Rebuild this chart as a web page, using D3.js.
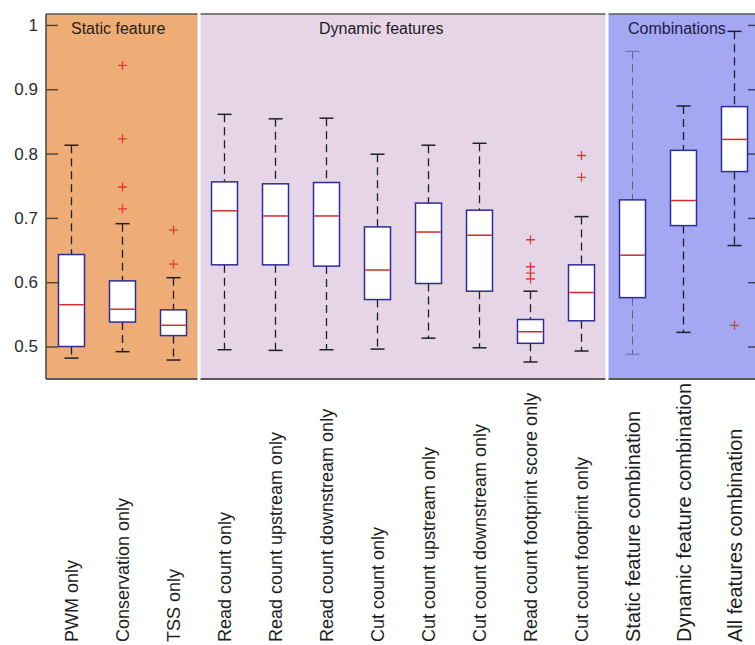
<!DOCTYPE html>
<html>
<head>
<meta charset="utf-8">
<script src="https://cdn.jsdelivr.net/npm/d3@7"></script>
<style>
  html, body { margin: 0; padding: 0; background: #ffffff; }
  svg { display: block; font-family: "Liberation Sans", Arial, Helvetica, sans-serif; }
</style>
</head>
<body>
<svg id="chart" width="755" height="645"></svg>
<script>
// Feature sets compared, in plotting order
const categories = [
  "PWM only", "Conservation only", "TSS only",
  "Read count only", "Read count upstream only", "Read count downstream only",
  "Cut count only", "Cut count upstream only", "Cut count downstream only",
  "Read count footprint score only", "Cut count footprint only",
  "Static feature combination", "Dynamic feature combination", "All features combination"
];

// Group each feature set belongs to
const panelNames = ["Static feature", "Dynamic features", "Combinations"];
const panelOfCategory = [0, 0, 0, 1, 1, 1, 1, 1, 1, 1, 1, 2, 2, 2];

// Box statistics per feature set
const whiskerLow  = [0.482, 0.492, 0.479, 0.495, 0.494, 0.495, 0.496, 0.513, 0.498, 0.476, 0.493, 0.488, 0.522, 0.657];
const q1          = [0.500, 0.538, 0.517, 0.627, 0.627, 0.625, 0.573, 0.598, 0.586, 0.505, 0.540, 0.576, 0.688, 0.772];
const median      = [0.565, 0.558, 0.533, 0.711, 0.703, 0.703, 0.619, 0.678, 0.673, 0.523, 0.584, 0.642, 0.727, 0.822];
const q3          = [0.643, 0.602, 0.557, 0.756, 0.753, 0.755, 0.686, 0.723, 0.712, 0.542, 0.627, 0.728, 0.805, 0.873];
const whiskerHigh = [0.813, 0.691, 0.607, 0.861, 0.854, 0.855, 0.799, 0.813, 0.816, 0.586, 0.702, 0.959, 0.874, 0.990];
const outliers = [
  [],
  [0.937, 0.823, 0.748, 0.714],
  [0.681, 0.628],
  [], [], [], [], [], [],
  [0.666, 0.624, 0.614, 0.605],
  [0.797, 0.763],
  [], [],
  [0.533]
];

// Axis ticks
const yTicks = [0.5, 0.6, 0.7, 0.8, 0.9, 1];
const yTickLabels = ["0.5", "0.6", "0.7", "0.8", "0.9", "1"];

// Layout and styling
const plot = { left: 46, right: 760, top: 14, bottom: 379 };
const panelFill = ["#eeac76", "#e6d5e6", "#a4a7f1"];
const titleOffset = [25, 120, 21];
const titleColor = ["#2a1c12", "#1e1a24", "#1a1a44"];
const lightWhisker = ["Static feature combination"];

const svg = d3.select("#chart");

const x = d3.scaleBand()
  .domain(categories)
  .range([plot.left, plot.right])
  .paddingInner(0)
  .paddingOuter(0);

const y = d3.scaleLinear()
  .domain([0.4495, 1.017])
  .range([plot.bottom, plot.top]);

const bw = x.bandwidth();
const boxW = 26;
const capW = 14;

// Panel backgrounds
const panels = panelNames.map((name, p) => {
  const members = categories.filter((c, i) => panelOfCategory[i] === p);
  return {
    name,
    x0: x(members[0]),
    x1: x(members[members.length - 1]) + bw,
    fill: panelFill[p],
    p
  };
});

svg.append("g").selectAll("rect")
  .data(panels)
  .join("rect")
  .attr("x", d => d.x0)
  .attr("y", plot.top)
  .attr("width", d => d.x1 - d.x0)
  .attr("height", plot.bottom - plot.top)
  .attr("fill", d => d.fill);

// Tick marks inside the left and right edges
const leftAxis = svg.append("g")
  .attr("transform", `translate(${plot.left},0)`)
  .call(d3.axisLeft(y)
    .tickValues(yTicks)
    .tickFormat((d, i) => yTickLabels[i])
    .tickSize(-12)
    .tickPadding(8));
leftAxis.select(".domain").remove();
leftAxis.selectAll(".tick line").attr("stroke", "#4a4038").attr("stroke-width", 1.4);
leftAxis.selectAll(".tick text")
  .attr("font-size", 17)
  .attr("fill", "#2b2b2b")
  .attr("font-family", "'Liberation Sans', Arial, sans-serif");

const rightAxis = svg.append("g")
  .attr("transform", `translate(${plot.right},0)`)
  .call(d3.axisRight(y).tickValues(yTicks).tickFormat("").tickSize(-12));
rightAxis.select(".domain").remove();
rightAxis.selectAll(".tick line").attr("stroke", "#3a3a5a").attr("stroke-width", 1.4);

// Panel titles
svg.append("g").selectAll("text")
  .data(panels)
  .join("text")
  .attr("x", d => d.x0 + titleOffset[d.p])
  .attr("y", 34)
  .attr("font-size", 16)
  .attr("fill", d => titleColor[d.p])
  .text(d => d.name);

// Box plots
const stats = categories.map((c, i) => ({
  c, lo: whiskerLow[i], q1: q1[i], med: median[i], q3: q3[i], hi: whiskerHigh[i], out: outliers[i]
}));

const g = svg.append("g").selectAll("g")
  .data(stats)
  .join("g")
  .attr("transform", d => `translate(${x(d.c) + bw / 2},0)`);

// Dashed whiskers
g.append("line")
  .attr("x1", 0).attr("x2", 0)
  .attr("y1", d => y(d.hi)).attr("y2", d => y(d.q3))
  .attr("class", "whisker");
g.append("line")
  .attr("x1", 0).attr("x2", 0)
  .attr("y1", d => y(d.q1)).attr("y2", d => y(d.lo))
  .attr("class", "whisker");
g.selectAll(".whisker")
  .attr("stroke", d => lightWhisker.includes(d.c) ? "#5a5e8a" : "#1e1e2a")
  .attr("stroke-width", d => lightWhisker.includes(d.c) ? 1 : 1.3)
  .attr("stroke-dasharray", "8,5");

// Whisker caps
g.append("line")
  .attr("x1", -capW / 2).attr("x2", capW / 2)
  .attr("y1", d => y(d.hi)).attr("y2", d => y(d.hi))
  .attr("class", "cap");
g.append("line")
  .attr("x1", -capW / 2).attr("x2", capW / 2)
  .attr("y1", d => y(d.lo)).attr("y2", d => y(d.lo))
  .attr("class", "cap");
g.selectAll(".cap")
  .attr("stroke", d => lightWhisker.includes(d.c) ? "#6a6e96" : "#1e1e2a")
  .attr("stroke-width", d => lightWhisker.includes(d.c) ? 1 : 1.5);

// Interquartile boxes
g.append("rect")
  .attr("x", -boxW / 2)
  .attr("width", boxW)
  .attr("y", d => y(d.q3))
  .attr("height", d => y(d.q1) - y(d.q3))
  .attr("fill", "#ffffff")
  .attr("stroke", "#2c2c9a")
  .attr("stroke-width", 1.5);

// Medians
g.append("line")
  .attr("x1", -boxW / 2 + 0.75).attr("x2", boxW / 2 - 0.75)
  .attr("y1", d => y(d.med)).attr("y2", d => y(d.med))
  .attr("stroke", "#d42a2a")
  .attr("stroke-width", 1.5);

// Outliers
const plusSize = 4.5;
g.selectAll("path.outlier")
  .data(d => d.out)
  .join("path")
  .attr("class", "outlier")
  .attr("d", v => `M${-plusSize},${y(v)}H${plusSize}M0,${y(v) - plusSize}V${y(v) + plusSize}`)
  .attr("stroke", "#e03a3a")
  .attr("stroke-width", 1.3)
  .attr("fill", "none");

// Frame
svg.append("line")
  .attr("x1", plot.left).attr("x2", plot.right)
  .attr("y1", plot.top).attr("y2", plot.top)
  .attr("stroke", "#5a5a5a").attr("stroke-width", 1.5);
svg.append("line")
  .attr("x1", plot.left).attr("x2", plot.right)
  .attr("y1", plot.bottom).attr("y2", plot.bottom)
  .attr("stroke", "#5a5858").attr("stroke-width", 2);
svg.append("line")
  .attr("x1", plot.left).attr("x2", plot.left)
  .attr("y1", plot.top).attr("y2", plot.bottom)
  .attr("stroke", "#5a4a3c").attr("stroke-width", 1.6);

// White gaps between panels
svg.append("g").selectAll("line")
  .data(panels.slice(1))
  .join("line")
  .attr("x1", d => d.x0).attr("x2", d => d.x0)
  .attr("y1", plot.top - 1).attr("y2", plot.bottom + 1.5)
  .attr("stroke", "#ffffff")
  .attr("stroke-width", 3);

// Category labels, rotated
svg.append("g").selectAll("text")
  .data(categories)
  .join("text")
  .attr("transform", (d, i) => `translate(${x(d) + bw / 2},642) rotate(-90)`)
  .attr("dy", "0.35em")
  .attr("font-size", (d, i) => panelOfCategory[i] === 2 ? 20 : 18)
  .attr("fill", "#1e1e1e")
  .text(d => d);
</script>
</body>
</html>
